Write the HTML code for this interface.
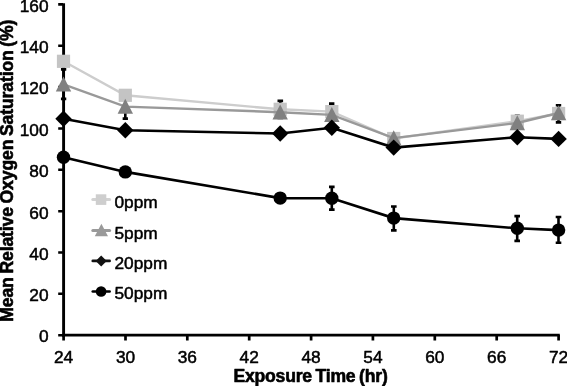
<!DOCTYPE html><html><head><meta charset="utf-8"><title>chart</title><style>html,body{margin:0;padding:0;background:#fff}svg{display:block;will-change:transform}text{font-family:"Liberation Sans",Arial,Helvetica,sans-serif;font-size:17.3px;fill:#000;stroke:#000;stroke-width:.5px;stroke-linejoin:round}.b{font-weight:bold;font-size:17.6px;stroke-width:.6px;word-spacing:-1px}</style></head><body>
<svg width="567" height="386" viewBox="0 0 567 386">
<rect width="567" height="386" fill="#fff"/>
<path d="M63.6,69.4V98.9M60.95,69.4h5.3M60.95,98.9h5.3" stroke="#000" stroke-width="2.6" fill="none"/>
<path d="M125.3,96V118.6M122.64999999999999,96h5.3M122.64999999999999,118.6h5.3" stroke="#000" stroke-width="2.6" fill="none"/>
<path d="M280.3,100.9V118M277.5,100.9h5.6M277.5,118h5.6" stroke="#000" stroke-width="2.6" fill="none"/>
<path d="M331.7,103.6V120M329.0,103.6h5.4M329.0,120h5.4" stroke="#000" stroke-width="2.6" fill="none"/>
<path d="M517.3,115.2V128M514.8,115.2h5.0M514.8,128h5.0" stroke="#000" stroke-width="1.6" fill="none"/>
<path d="M558.5,105.2V122.4M555.8,105.2h5.4M555.8,122.4h5.4" stroke="#000" stroke-width="2.6" fill="none"/>
<path d="M331.8,186.9V209.6M329.0,186.9h5.6M329.0,209.6h5.6" stroke="#000" stroke-width="2.6" fill="none"/>
<path d="M393.8,206.5V230.4M391.0,206.5h5.6M391.0,230.4h5.6" stroke="#000" stroke-width="2.6" fill="none"/>
<path d="M517.2,216.1V240.9M514.4000000000001,216.1h5.6M514.4000000000001,240.9h5.6" stroke="#000" stroke-width="2.6" fill="none"/>
<path d="M558.5,217.0V242.8M555.7,217.0h5.6M555.7,242.8h5.6" stroke="#000" stroke-width="2.6" fill="none"/>
<path d="M63.6,3.2V336.4" stroke="#000" stroke-width="2.9" fill="none"/>
<path d="M62.2,335.1H559.8" stroke="#000" stroke-width="2.7" fill="none"/>
<path d="M58.2,4.4H63M58.2,45.8H63M58.2,87.1H63M58.2,128.5H63M58.2,169.8H63M58.2,211.2H63M58.2,252.5H63M58.2,293.8H63M58.2,335.2H63" stroke="#000" stroke-width="2.6" fill="none"/>
<path d="M63.6,335V340.4M125.5,335V340.4M187.3,335V340.4M249.2,335V340.4M311.1,335V340.4M372.9,335V340.4M434.8,335V340.4M496.7,335V340.4M558.6,335V340.4" stroke="#000" stroke-width="2.7" fill="none"/>
<text x="48.6" y="11.7" text-anchor="end">160</text>
<text x="48.6" y="53.0" text-anchor="end">140</text>
<text x="48.6" y="94.4" text-anchor="end">120</text>
<text x="48.6" y="135.8" text-anchor="end">100</text>
<text x="48.6" y="177.1" text-anchor="end">80</text>
<text x="48.6" y="218.5" text-anchor="end">60</text>
<text x="48.6" y="259.8" text-anchor="end">40</text>
<text x="48.6" y="301.1" text-anchor="end">20</text>
<text x="48.6" y="342.2" text-anchor="end">0</text>
<text x="63.6" y="362.9" text-anchor="middle">24</text>
<text x="125.5" y="362.9" text-anchor="middle">30</text>
<text x="187.3" y="362.9" text-anchor="middle">36</text>
<text x="249.2" y="362.9" text-anchor="middle">42</text>
<text x="311.1" y="362.9" text-anchor="middle">48</text>
<text x="372.9" y="362.9" text-anchor="middle">54</text>
<text x="434.8" y="362.9" text-anchor="middle">60</text>
<text x="496.7" y="362.9" text-anchor="middle">66</text>
<text x="558.6" y="362.9" text-anchor="middle">72</text>
<text x="310.5" y="382.2" text-anchor="middle" class="b" style="letter-spacing:-.22px">Exposure Time (hr)</text>
<text transform="translate(12.8,170.7) rotate(-90)" text-anchor="middle" class="b" style="letter-spacing:-.14px">Mean Relative Oxygen Saturation (%)</text>
<polyline points="63.5,61.3 125.3,95.3 280.2,109.3 331.8,111.6 393.7,138.5 517.3,121.2 558.6,113.5" fill="none" stroke="#cdcdcd" stroke-width="2.4"/>
<rect x="56.9" y="54.7" width="13.2" height="13.2" fill="#c4c4c4"/>
<rect x="118.7" y="88.7" width="13.2" height="13.2" fill="#c4c4c4"/>
<rect x="273.6" y="102.7" width="13.2" height="13.2" fill="#c4c4c4"/>
<rect x="325.2" y="105.0" width="13.2" height="13.2" fill="#c4c4c4"/>
<rect x="387.1" y="131.9" width="13.2" height="13.2" fill="#c4c4c4"/>
<rect x="510.7" y="114.6" width="13.2" height="13.2" fill="#c4c4c4"/>
<rect x="552.0" y="106.9" width="13.2" height="13.2" fill="#c4c4c4"/>
<polyline points="63.5,84.3 125.3,106.6 280.2,112.2 331.8,114.9 393.7,138.1 517.3,123.0 558.6,113.0" fill="none" stroke="#999" stroke-width="2.4"/>
<path d="M63.5,76.5L71.2,91.5H55.8Z" fill="#808080"/>
<path d="M125.3,98.8L133.0,113.8H117.6Z" fill="#808080"/>
<path d="M280.2,104.4L287.9,119.4H272.5Z" fill="#808080"/>
<path d="M331.8,107.1L339.5,122.1H324.1Z" fill="#808080"/>
<path d="M393.7,130.3L401.4,145.3H386.0Z" fill="#808080"/>
<path d="M517.3,115.2L525.0,130.2H509.6Z" fill="#808080"/>
<path d="M558.6,105.2L566.3,120.2H550.9Z" fill="#808080"/>
<polyline points="63.5,118.8 125.3,130.3 280.2,133.5 331.8,127.8 393.7,147.6 517.3,137.2 558.6,138.9" fill="none" stroke="#000" stroke-width="2.6"/>
<path d="M63.5,110.6L71.7,118.8L63.5,127.0L55.3,118.8Z" fill="#000"/>
<path d="M125.3,122.1L133.5,130.3L125.3,138.5L117.1,130.3Z" fill="#000"/>
<path d="M280.2,125.3L288.4,133.5L280.2,141.7L272.0,133.5Z" fill="#000"/>
<path d="M331.8,119.6L340.0,127.8L331.8,136.0L323.6,127.8Z" fill="#000"/>
<path d="M393.7,139.4L401.9,147.6L393.7,155.8L385.5,147.6Z" fill="#000"/>
<path d="M517.3,129.0L525.5,137.2L517.3,145.4L509.1,137.2Z" fill="#000"/>
<path d="M558.6,130.7L566.8,138.9L558.6,147.1L550.4,138.9Z" fill="#000"/>
<polyline points="63.5,157.2 125.3,171.9 280.2,198.1 331.8,198.2 393.7,218.1 517.3,228.3 558.6,230.1" fill="none" stroke="#000" stroke-width="2.6"/>
<circle cx="63.5" cy="157.2" r="6.7" fill="#000"/>
<circle cx="125.3" cy="171.9" r="6.7" fill="#000"/>
<circle cx="280.2" cy="198.1" r="6.7" fill="#000"/>
<circle cx="331.8" cy="198.2" r="6.7" fill="#000"/>
<circle cx="393.7" cy="218.1" r="6.7" fill="#000"/>
<circle cx="517.3" cy="228.3" r="6.7" fill="#000"/>
<circle cx="558.6" cy="230.1" r="6.7" fill="#000"/>
<path d="M92.8,199.6H109.6" stroke="#d2d2d2" stroke-width="3.0" stroke-linecap="round"/>
<rect x="95.8" y="194.3" width="10.5" height="10.6" fill="#cecece"/>
<path d="M92.8,230.6H109.6" stroke="#9a9a9a" stroke-width="3.0" stroke-linecap="round"/>
<path d="M101.4,223.8L108.0,236.2H94.8Z" fill="#9a9a9a"/>
<path d="M92.8,260.9H109.6" stroke="#111" stroke-width="2.7" stroke-linecap="round"/>
<path d="M101.2,255.4L106.7,260.9L101.2,266.4L95.7,260.9Z" fill="#111"/>
<path d="M92.8,291.5H109.6" stroke="#000" stroke-width="2.7" stroke-linecap="round"/>
<circle cx="101.1" cy="291.5" r="5.3" fill="#000"/>
<text x="114.4" y="207.5" style="letter-spacing:.05px">0ppm</text>
<text x="114.4" y="238.5" style="letter-spacing:.05px">5ppm</text>
<text x="114.4" y="268.8" style="letter-spacing:.05px">20ppm</text>
<text x="114.4" y="299.4" style="letter-spacing:.05px">50ppm</text>
</svg></body></html>
